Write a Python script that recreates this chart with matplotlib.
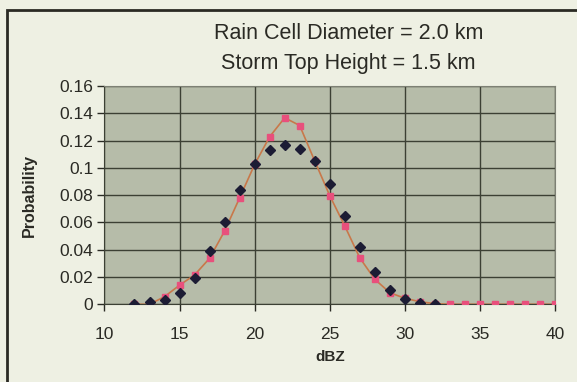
import matplotlib
matplotlib.use('Agg')
import matplotlib.pyplot as plt
from matplotlib.patches import Rectangle

# valeurs
dbz_mesure = list(range(12, 33))
prob_mesure = [0.0, 0.0015, 0.003, 0.0085, 0.0195, 0.039, 0.0605, 0.0837, 0.1025, 0.113, 0.117,
               0.114, 0.105, 0.088, 0.065, 0.042, 0.0234, 0.0105, 0.0037, 0.0012, 0.0003]

dbz_modele = list(range(12, 41))
prob_modele = [0.0, 0.0, 0.0056, 0.014, 0.0215, 0.0337, 0.0537, 0.078, 0.1025, 0.1228, 0.1367,
               0.131, 0.105, 0.0796, 0.0574, 0.034, 0.0183, 0.0085, 0.0044, 0.0019, 0.0005,
               0, 0, 0, 0, 0, 0, 0, 0]

x_ticks = [10, 15, 20, 25, 30, 35, 40]
y_ticks = [0, 0.02, 0.04, 0.06, 0.08, 0.1, 0.12, 0.14, 0.16]
y_labels = ['0', '0.02', '0.04', '0.06', '0.08', '0.1', '0.12', '0.14', '0.16']

plt.rcParams['font.family'] = ['Liberation Sans', 'DejaVu Sans']

fig = plt.figure(figsize=(5.77, 3.82), dpi=100)
fig.patch.set_facecolor('#eef0e3')
ax = fig.add_axes([0.181, 0.2034, 0.781, 0.5716])
ax.set_facecolor('#b6bca9')

# cadre de la figure
fig.patches.append(Rectangle((7 / 577, -0.1), 1.2, 1 - 10 / 382 + 0.1, transform=fig.transFigure,
                             fill=False, edgecolor='#2a2a24', linewidth=2))

ax.plot(dbz_modele, prob_modele, color='#c8784a', linewidth=1.2, marker='s', markersize=4,
        markerfacecolor='#e8507c', markeredgecolor='#e8507c', zorder=3)
ax.plot(dbz_mesure, prob_mesure, linestyle='none', marker='D', markersize=5.5,
        color='#1c1c34', zorder=4)

ax.set_xlim(10, 40)
ax.set_ylim(0, 0.16)
ax.set_xticks(x_ticks)
ax.set_yticks(y_ticks)
ax.set_yticklabels(y_labels)
ax.grid(True, color='#3c4034', linewidth=1)
ax.set_axisbelow(True)
for s in ax.spines.values():
    s.set_color('#7d8074')
ax.spines['left'].set_color('#3c4034')
ax.spines['bottom'].set_color('#3c4034')
ax.tick_params(axis='both', labelsize=12.5, colors='#2a2a24', length=5, width=1, direction='out', pad=3)
ax.tick_params(axis='x', pad=11)

ax.set_xlabel('dBZ', fontsize=11, fontweight='bold', color='#2a2a24', labelpad=6)
ax.set_ylabel('Probability', fontsize=11.5, fontweight='bold', color='#2a2a24', labelpad=16)

fig.text(0.604, 0.911, 'Rain Cell Diameter = 2.0 km', ha='center', va='center', fontsize=15.5, color='#2a2a24')
fig.text(0.604, 0.835, 'Storm Top Height = 1.5 km', ha='center', va='center', fontsize=15.5, color='#2a2a24')

fig.savefig('out.png', dpi=100, facecolor=fig.get_facecolor())
